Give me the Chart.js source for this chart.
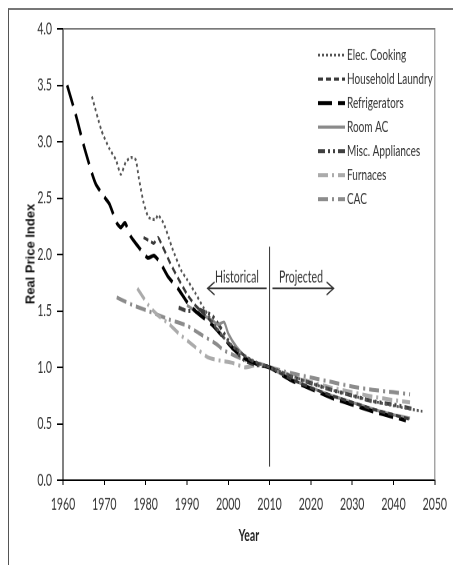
<!DOCTYPE html>
<html lang="en">
<head>
    <meta charset="UTF-8">
    <title>Real Price Index</title>
    <script src="https://cdn.jsdelivr.net/npm/chart.js"></script>
    <style>
        body {
            margin: 0;
            width: 453px;
            height: 565px;
            overflow: hidden;
            background: #fff;
            font-family: Lato, sans-serif;
        }
        #frame {
            position: absolute;
            left: 8px;
            top: 8px;
            width: 460px;
            height: 570px;
            border-top: 2px solid #777;
            border-left: 1px solid #555;
        }
        #chart {
            position: absolute;
            left: 0;
            top: 0;
            width: 453px;
            height: 353px;
            transform-origin: 0 0;
            transform: scaleY(1.6006);
        }
        #ytitle {
            position: absolute;
            left: 30px;
            top: 254px;
            transform: translate(-50%, -50%) rotate(-90deg);
            font: bold 13px "Liberation Sans", Arial, sans-serif;
            color: #111;
            white-space: nowrap;
        }
    </style>
</head>
<body>
    <div id="frame"></div>
    <canvas id="chart" width="453" height="353"></canvas>
    <div id="ytitle">Real Price Index</div>

    <script>
        // the original figure is stretched vertically, so the canvas is drawn flat and scaled in css
        const SY = 565 / 353;

        const xTicks = [1960, 1970, 1980, 1990, 2000, 2010, 2020, 2030, 2040, 2050];
        const yTicks = [0, 0.5, 1, 1.5, 2, 2.5, 3, 3.5, 4];

        const seriesNames = ['Elec. Cooking', 'Household Laundry', 'Refrigerators', 'Room AC',
            'Misc. Appliances', 'Furnaces', 'CAC'];

        const cookingYears = [1967, 1969.3, 1971.2, 1972.8, 1974, 1975.2, 1976.4, 1977.6, 1978.3, 1979.5,
            1980.7, 1982.4, 1983, 1984.3, 1985.5, 1986.5, 1988.6, 1990, 1992, 1994, 1997, 2000, 2003, 2006,
            2010, 2015, 2020, 2025, 2030, 2035, 2040, 2047];
        const cookingIndex = [3.40, 3.10, 2.94, 2.84, 2.71, 2.82, 2.86, 2.84, 2.69, 2.46,
            2.33, 2.31, 2.35, 2.28, 2.16, 2.05, 1.86, 1.78, 1.66, 1.53, 1.36, 1.22, 1.13, 1.06,
            1.0, 0.93, 0.86, 0.80, 0.75, 0.70, 0.66, 0.61];

        const laundryYears = [1979.5, 1981, 1982, 1983, 1984, 1986, 1988, 1990, 1992, 1994, 1996, 1998,
            2000, 2003, 2006, 2010, 2015, 2020, 2025, 2030, 2035, 2040, 2044];
        const laundryIndex = [2.15, 2.12, 2.10, 2.15, 2.08, 1.92, 1.78, 1.65, 1.55, 1.48, 1.40, 1.30,
            1.22, 1.13, 1.05, 1.0, 0.90, 0.82, 0.75, 0.69, 0.63, 0.58, 0.54];

        const fridgeYears = [1961, 1963, 1965, 1967, 1968, 1970, 1971.2, 1973, 1974, 1975, 1976.4, 1978,
            1980.5, 1982, 1983.5, 1985.5, 1988, 1990, 1992, 1994, 1996, 1998, 2001, 2004, 2007,
            2010, 2015, 2020, 2025, 2030, 2035, 2040, 2043];
        const fridgeIndex = [3.50, 3.25, 2.97, 2.72, 2.62, 2.51, 2.45, 2.28, 2.24, 2.28, 2.16, 2.08,
            1.97, 1.99, 1.93, 1.80, 1.69, 1.58, 1.50, 1.44, 1.38, 1.30, 1.17, 1.08, 1.03,
            1.0, 0.89, 0.81, 0.73, 0.67, 0.61, 0.56, 0.53];

        const roomAcYears = [1990, 1992, 1994, 1996, 1997.5, 1999, 2000, 2002, 2004, 2006, 2008,
            2010, 2015, 2020, 2025, 2030, 2035, 2040, 2044];
        const roomAcIndex = [1.55, 1.50, 1.46, 1.42, 1.38, 1.40, 1.30, 1.18, 1.10, 1.05, 1.03,
            1.0, 0.90, 0.82, 0.75, 0.69, 0.63, 0.58, 0.55];

        const miscYears = [1988, 1990, 1993, 1996, 1998, 2001, 2004, 2007,
            2010, 2015, 2020, 2025, 2030, 2035, 2040, 2045];
        const miscIndex = [1.53, 1.50, 1.51, 1.46, 1.36, 1.18, 1.06, 1.02,
            1.0, 0.92, 0.86, 0.80, 0.75, 0.70, 0.67, 0.63];

        const furnaceYears = [1978, 1980.7, 1983, 1985.5, 1988, 1992, 1995, 1998, 2001, 2004, 2007,
            2010, 2015, 2020, 2025, 2030, 2035, 2040, 2044];
        const furnaceIndex = [1.70, 1.55, 1.46, 1.39, 1.30, 1.18, 1.09, 1.06, 1.04, 1.00, 1.02,
            1.0, 0.93, 0.87, 0.82, 0.78, 0.74, 0.71, 0.69];

        const cacYears = [1973, 1977, 1982, 1986, 1990, 1993, 1997, 1999, 2003, 2007,
            2010, 2015, 2020, 2025, 2030, 2035, 2040, 2044];
        const cacIndex = [1.62, 1.55, 1.48, 1.42, 1.37, 1.30, 1.21, 1.15, 1.08, 1.03,
            1.0, 0.95, 0.91, 0.87, 0.83, 0.80, 0.78, 0.76];

        const styles = [
            { color: '#555', dash: [2, 2], width: 1.8 },
            { color: '#3a3a3a', dash: [5, 3], width: 2 },
            { color: '#000', dash: [14, 6], width: 2.5 },
            { color: '#8a8a8a', dash: [], width: 2 },
            { color: '#404040', dash: [7, 3, 2, 3, 2, 3], width: 2.5 },
            { color: '#ababab', dash: [10, 4, 2, 4], width: 2.5 },
            { color: '#8c8c8c', dash: [10, 4, 2, 4], width: 2.5 }
        ];

        const pairs = [
            [cookingYears, cookingIndex], [laundryYears, laundryIndex], [fridgeYears, fridgeIndex],
            [roomAcYears, roomAcIndex], [miscYears, miscIndex], [furnaceYears, furnaceIndex], [cacYears, cacIndex]
        ];

        const datasets = pairs.map((p, i) => ({
            label: seriesNames[i],
            data: p[0].map((yr, j) => ({ x: yr, y: p[1][j] })),
            borderColor: styles[i].color,
            borderDash: styles[i].dash,
            borderWidth: styles[i].width,
            pointRadius: 0,
            fill: false,
            tension: 0.2
        }));

        const extras = {
            id: 'extras',
            afterDraw(chart) {
                const ctx = chart.ctx;
                const xs = chart.scales.x, ys = chart.scales.y;
                const area = chart.chartArea;
                ctx.save();

                // plot frame top and right
                ctx.strokeStyle = '#7a7a7a';
                ctx.lineWidth = 1;
                ctx.beginPath();
                ctx.moveTo(area.left, area.top);
                ctx.lineTo(area.right, area.top);
                ctx.lineTo(area.right, area.bottom);
                ctx.stroke();

                // 2010 divider
                ctx.strokeStyle = '#333';
                const x10 = xs.getPixelForValue(2010);
                ctx.beginPath();
                ctx.moveTo(x10, ys.getPixelForValue(2.07));
                ctx.lineTo(x10, ys.getPixelForValue(0.12));
                ctx.stroke();

                // arrows
                const ay = ys.getPixelForValue(1.70);
                const hx = xs.getPixelForValue(1995), px = xs.getPixelForValue(2025.5);
                ctx.beginPath();
                ctx.moveTo(xs.getPixelForValue(2009.3), ay);
                ctx.lineTo(hx, ay);
                ctx.moveTo(hx + 7, ay - 4);
                ctx.lineTo(hx, ay);
                ctx.lineTo(hx + 7, ay + 4);
                ctx.moveTo(xs.getPixelForValue(2010.7), ay);
                ctx.lineTo(px, ay);
                ctx.moveTo(px - 7, ay - 4);
                ctx.lineTo(px, ay);
                ctx.lineTo(px - 7, ay + 4);
                ctx.stroke();

                ctx.fillStyle = '#333';
                ctx.font = '10.5px Lato';
                ctx.textAlign = 'center';
                ctx.textBaseline = 'middle';
                const ty = ys.getPixelForValue(1.80);
                ctx.fillText('Historical', xs.getPixelForValue(2002.1), ty);
                ctx.fillText('Projected', xs.getPixelForValue(2017.6), ty);

                // legend
                ctx.textAlign = 'left';
                ctx.font = '10px Lato';
                chart.data.datasets.forEach((ds, i) => {
                    const ly = (55 + i * 24) / SY;
                    ctx.strokeStyle = ds.borderColor;
                    ctx.lineWidth = ds.borderWidth;
                    ctx.setLineDash(ds.borderDash);
                    ctx.beginPath();
                    ctx.moveTo(318, ly);
                    ctx.lineTo(345, ly);
                    ctx.stroke();
                    ctx.setLineDash([]);
                    ctx.fillStyle = '#333';
                    ctx.fillText(ds.label, 347, ly);
                });
                ctx.restore();
            }
        };

        Chart.defaults.font.family = 'Lato';
        Chart.defaults.color = '#333';

        new Chart(document.getElementById('chart').getContext('2d'), {
            type: 'line',
            data: { datasets: datasets },
            options: {
                responsive: false,
                devicePixelRatio: 2,
                animation: false,
                layout: { padding: { top: 18, right: 12, left: 0, bottom: 0 } },
                plugins: { legend: { display: false }, tooltip: { enabled: false } },
                scales: {
                    x: {
                        type: 'linear',
                        min: 1960,
                        max: 2050,
                        afterBuildTicks: s => { s.ticks = xTicks.map(v => ({ value: v })); },
                        afterFit: s => { s.height = 53; },
                        ticks: { color: '#333', font: { size: 10.5 }, padding: 6, callback: v => String(v), maxRotation: 0 },
                        grid: { drawOnChartArea: false, drawTicks: true, tickLength: 3, color: '#000' },
                        border: { color: '#000', width: 1 },
                        title: {
                            display: true, text: 'Year', color: '#222',
                            font: { size: 10.5, weight: 'bold' },
                            padding: { top: 0, bottom: 12 }
                        }
                    },
                    y: {
                        min: 0,
                        max: 4,
                        afterBuildTicks: s => { s.ticks = yTicks.map(v => ({ value: v })); },
                        afterFit: s => { s.width = 63; },
                        ticks: { color: '#333', font: { size: 10.5 }, padding: 5, callback: v => v.toFixed(1) },
                        grid: { drawOnChartArea: false, drawTicks: true, tickLength: 6, color: '#000' },
                        border: { color: '#000', width: 1 }
                    }
                }
            },
            plugins: [extras]
        });
    </script>
</body>
</html>
